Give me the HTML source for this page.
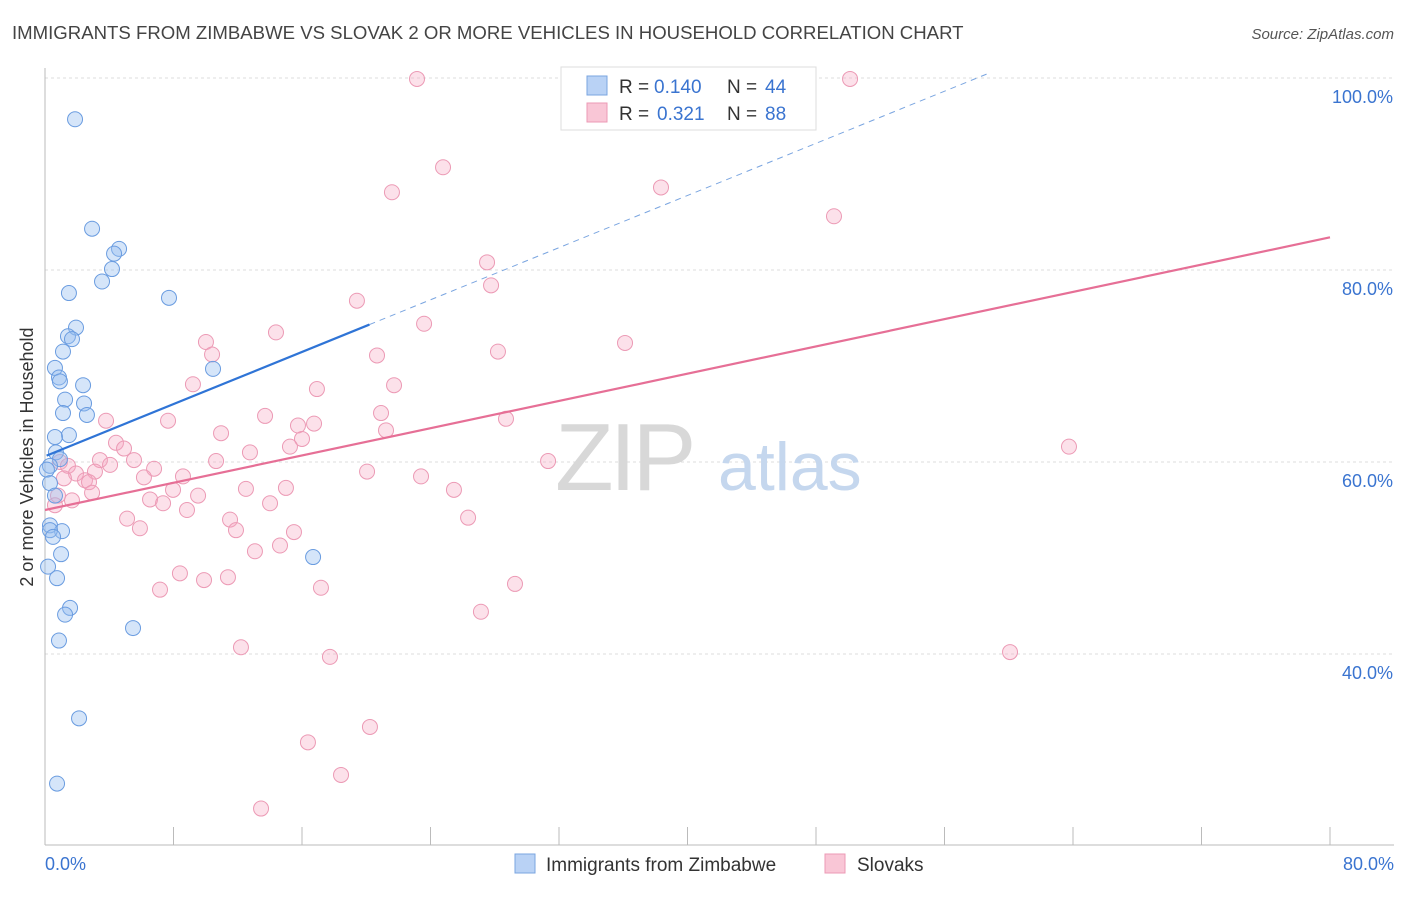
<!DOCTYPE html>
<html><head><meta charset="utf-8"><style>
body{margin:0;background:#fff;font-family:"Liberation Sans",sans-serif;}
svg text{font-family:"Liberation Sans",sans-serif;}
</style></head><body>
<svg id="chart" width="1406" height="892" viewBox="0 0 1406 892" xmlns="http://www.w3.org/2000/svg">
<text x="12" y="39" font-size="18.6" fill="#444">IMMIGRANTS FROM ZIMBABWE VS SLOVAK 2 OR MORE VEHICLES IN HOUSEHOLD CORRELATION CHART</text>
<text x="1394" y="39" font-size="15" fill="#555" text-anchor="end" font-style="italic">Source: ZipAtlas.com</text>
<g id="grid"></g>
<g>
<text x="555" y="490" font-size="96" fill="#d8d8d8" font-family="Liberation Serif" letter-spacing="-4">ZIP</text>
<text x="718" y="490" font-size="68" fill="#c5d7ee">atlas</text>
</g>
<g id="axes"></g>
<g id="pts"></g>
<g id="trends"></g>
<text transform="translate(33,457) rotate(-90)" font-size="18" fill="#333" text-anchor="middle">2 or more Vehicles in Household</text>
<g>
<rect x="561" y="67" width="255" height="63" fill="#fff" stroke="#ddd"/>
<g>
<rect x="587" y="76" width="20" height="19" fill="#b9d2f5" stroke="#7aa5e0"/>
<text x="619" y="93" font-size="19" fill="#333">R =</text>
<text x="654" y="93" font-size="19" fill="#3a74d0">0.140</text>
<text x="727" y="93" font-size="19" fill="#333">N =</text>
<text x="765" y="93" font-size="19" fill="#3a74d0">44</text>
</g>
<g>
<rect x="587" y="103" width="20" height="19" fill="#f9c6d6" stroke="#ec9ab5"/>
<text x="619" y="120" font-size="19" fill="#333">R =</text>
<text x="657" y="120" font-size="19" fill="#3a74d0">0.321</text>
<text x="727" y="120" font-size="19" fill="#333">N =</text>
<text x="765" y="120" font-size="19" fill="#3a74d0">88</text>
</g>
</g>
<g>
<g>
<rect x="515" y="854" width="20" height="19" fill="#b9d2f5" stroke="#7aa5e0"/>
<text x="546" y="871" font-size="19" fill="#333">Immigrants from Zimbabwe</text></g>
<g>
<rect x="825" y="854" width="20" height="19" fill="#f9c6d6" stroke="#ec9ab5"/>
<text x="857" y="871" font-size="19" fill="#333">Slovaks</text></g>
</g>
</svg>
<script>
const xTicks=[0,8,16,24,32,40,48,56,64,72,80];
const yGrid=[100,80,60,40];
const yTickLabels=["100.0%","80.0%","60.0%","40.0%"];
const xEndLabels=["0.0%","80.0%"];
const zimX=[1.87,2.93,4.61,4.30,4.17,3.55,1.49,7.72,1.93,1.43,1.68,1.12,10.46,0.62,0.87,0.93,2.37,2.43,1.25,2.61,1.12,1.49,0.62,0.68,0.93,0.31,0.12,0.31,0.62,0.31,1.06,0.31,0.50,1.00,16.69,0.19,0.75,1.56,1.25,0.87,5.48,2.12,0.75];
const zimY=[95.7,84.3,82.2,81.7,80.1,78.8,77.6,77.1,74.0,73.1,72.8,71.5,69.7,69.8,68.8,68.4,68.0,66.1,66.5,64.9,65.1,62.8,62.6,61.0,60.3,59.6,59.2,57.8,56.5,53.4,52.8,52.9,52.2,50.4,50.1,49.1,47.9,44.8,44.1,41.4,42.7,33.3,26.5];
const slvX=[23.16,37.98,50.12,24.78,21.60,38.35,49.12,27.52,27.77,19.42,14.38,23.60,36.11,10.02,10.40,28.20,20.67,9.21,21.73,16.93,28.70,13.70,20.92,3.80,7.66,15.75,16.75,21.23,10.96,16.00,15.25,63.75,4.42,4.92,12.76,0.93,3.42,5.54,10.65,31.32,6.79,4.05,3.11,1.43,1.93,8.59,20.05,23.41,2.49,2.74,1.18,6.16,7.97,12.51,15.00,25.46,2.93,6.54,9.53,1.68,7.35,14.01,8.84,11.52,5.11,5.91,26.34,15.50,11.89,14.63,13.07,8.40,11.39,9.90,7.16,17.18,29.26,27.14,12.20,60.08,17.74,16.37,20.23,18.43,13.45,0.81,0.62];
const slvY=[99.9,99.8,99.9,90.7,88.1,88.6,85.6,80.8,78.4,76.8,73.5,74.4,72.4,72.5,71.2,71.5,71.1,68.1,68.0,67.6,64.5,64.8,65.1,64.3,64.3,63.8,64.0,63.3,63.0,62.4,61.6,61.6,62.0,61.4,61.0,60.0,60.2,60.2,60.1,60.1,59.3,59.7,59.0,59.6,58.8,58.5,59.0,58.5,58.1,57.9,58.3,58.4,57.1,57.2,57.3,57.1,56.8,56.1,56.5,56.0,55.7,55.7,55.0,54.0,54.1,53.1,54.2,52.7,52.9,51.3,50.7,48.4,48.0,47.7,46.7,46.9,47.3,44.4,40.7,40.2,39.7,30.8,32.4,27.4,23.9,56.5,55.5];
const zimTrend=[60.6,0.679]; // intercept, slope
const zimTrendRange=[0.1,20.2,58.7];
const slvTrend=[55.0,0.355];
const slvTrendRange=[0,80];

const NS="http://www.w3.org/2000/svg";
const X=v=>45+v*(1285/80);
const Y=v=>78+(100-v)*9.6;
function mk(tag,attrs,parent){const e=document.createElementNS(NS,tag);for(const k in attrs)e.setAttribute(k,attrs[k]);parent.appendChild(e);return e;}
const grid=document.getElementById('grid'),axes=document.getElementById('axes'),pts=document.getElementById('pts'),tr=document.getElementById('trends');
yGrid.forEach((v,i)=>{
 const l=mk('line',{x1:45,x2:1394,y1:Y(v),y2:Y(v),stroke:'#ddd','stroke-dasharray':'3,3'},grid);
 
 
 const t=mk('text',{x:1393,y:Y(v)+25,'font-size':18,fill:'#3a74d0','text-anchor':'end'},axes);
 t.textContent=yTickLabels[i];
 
 
});
const ax=mk('line',{x1:45,x2:1394,y1:845,y2:845,stroke:'#bbb'},axes);


const ay=mk('line',{x1:45,x2:45,y1:68,y2:845,stroke:'#bbb'},axes);


xTicks.forEach(v=>{
 const t=mk('line',{x1:X(v),x2:X(v),y1:827,y2:845,stroke:'#bbb'},axes);
 
 
});
const xl0=mk('text',{x:45,y:870,'font-size':18,fill:'#3a74d0'},axes);xl0.textContent=xEndLabels[0];


const xl1=mk('text',{x:1394,y:870,'font-size':18,fill:'#3a74d0','text-anchor':'end'},axes);xl1.textContent=xEndLabels[1];


slvX.forEach((v,i)=>{
 const c=mk('circle',{cx:X(v),cy:Y(slvY[i]),r:7.5,fill:'rgba(246,170,195,0.35)',stroke:'#ec9ab5','stroke-width':1},pts);
 
 
});
zimX.forEach((v,i)=>{
 const c=mk('circle',{cx:X(v),cy:Y(zimY[i]),r:7.5,fill:'rgba(150,190,240,0.4)',stroke:'#6a9ce0','stroke-width':1},pts);
 
 
});
const f=(p,x)=>p[0]+p[1]*x;
const zs=mk('line',{x1:X(zimTrendRange[0]),y1:Y(f(zimTrend,zimTrendRange[0])),x2:X(zimTrendRange[1]),y2:Y(f(zimTrend,zimTrendRange[1])),stroke:'#2f74d6','stroke-width':2.2},tr);


const zd=mk('line',{x1:X(zimTrendRange[1]),y1:Y(f(zimTrend,zimTrendRange[1])),x2:X(zimTrendRange[2]),y2:Y(f(zimTrend,zimTrendRange[2])),stroke:'#7aa5e0','stroke-width':1,'stroke-dasharray':'6,5'},tr);


const sl=mk('line',{x1:X(slvTrendRange[0]),y1:Y(f(slvTrend,slvTrendRange[0])),x2:X(slvTrendRange[1]),y2:Y(f(slvTrend,slvTrendRange[1])),stroke:'#e66f96','stroke-width':2.2},tr);


</script>
</body></html>
